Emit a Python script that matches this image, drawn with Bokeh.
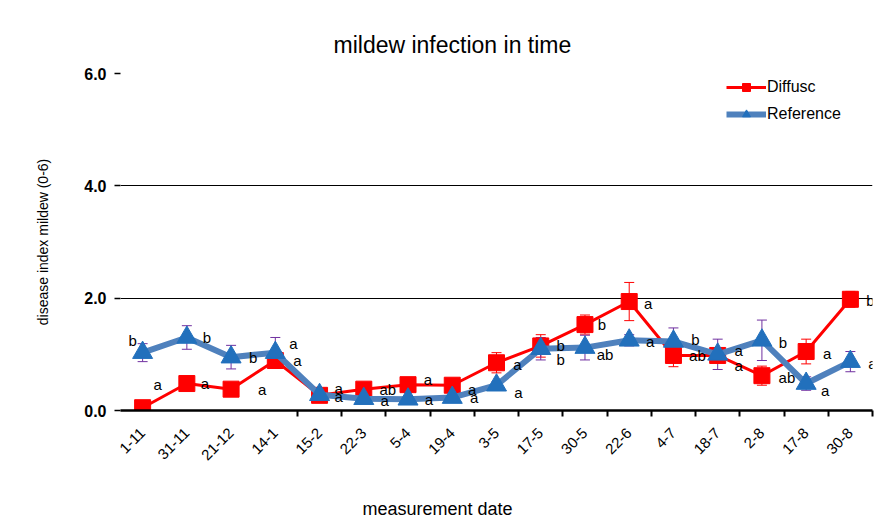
from math import pi
from bokeh.plotting import figure
from bokeh.models import (ColumnDataSource, FixedTicker, Whisker, TeeHead, Legend, LegendItem, Title)
from bokeh.core.properties import value
from bokeh.embed import file_html
from bokeh.resources import INLINE

dates = ["1-11", "31-11", "21-12", "14-1", "15-2", "22-3", "5-4", "19-4", "3-5",
         "17-5", "30-5", "22-6", "4-7", "18-7", "2-8", "17-8", "30-8"]
diffusc = [0.05, 0.48, 0.38, 0.89, 0.27, 0.38, 0.46, 0.45, 0.85,
           1.15, 1.53, 1.94, 0.98, 0.98, 0.62, 1.05, 1.98]
diffusc_err = [0.04, 0.05, 0.05, 0.08, 0.05, 0.05, 0.05, 0.05, 0.18,
               0.2, 0.17, 0.34, 0.2, 0.1, 0.17, 0.22, 0.14]
reference = [1.03, 1.3, 0.95, 1.03, 0.28, 0.21, 0.2, 0.23, 0.45,
             1.1, 1.12, 1.25, 1.23, 1.0, 1.25, 0.48, 0.87]
reference_err = [0.16, 0.21, 0.21, 0.27, 0.05, 0.05, 0.05, 0.05, 0.06,
                 0.2, 0.22, 0.1, 0.24, 0.27, 0.36, 0.12, 0.18]
diffusc_letters = ["a", "a", "a", "a", "a", "ab", "a", "a", "a",
                   "b", "b", "a", "ab", "a", "ab", "a", "b"]
reference_letters = ["b", "b", "b", "a", "a", "a", "a", "a", "a",
                     "b", "ab", "a", "b", "a", "b", "a", "a"]
yticks = [0, 2, 4, 6]

# label placement (pixel offsets from the point)
d_dx = [15, 18, 31, 22, 19, 24, 20, 20, 21, 20, 17, 19, 24, 21, 25, 21, 20]
d_dy = [-23, 0, 0, 0, -7, 0, -5, 4, 2, 0, 0, 2, 0, 10, 2, 2, 1]
r_dx = [-10, 20, 22, 18, 19, 21, 21, 22, 22, 20, 20, 21, 22, 21, 21, 19, 22]
r_dy = [-12, 0, 0, -9, 2, 2, 0, 0, 7, 11, 7, 1, -2, -4, 2, 7, 2]

FONT = "Liberation Sans"
x = list(range(len(dates)))

src_d = ColumnDataSource(dict(x=x, y=diffusc, lo=[v - e for v, e in zip(diffusc, diffusc_err)],
                              hi=[v + e for v, e in zip(diffusc, diffusc_err)],
                              t=diffusc_letters, dx=d_dx, dy=d_dy))
src_r = ColumnDataSource(dict(x=x, y=reference, lo=[v - e for v, e in zip(reference, reference_err)],
                              hi=[v + e for v, e in zip(reference, reference_err)],
                              t=reference_letters, dx=r_dx, dy=r_dy))

p = figure(width=876, height=527, output_backend="svg", toolbar_location=None,
           x_range=(-0.5, len(dates) - 0.5), y_range=(0, 6),
           frame_width=752, frame_height=337,
           min_border_left=120, min_border_right=4, min_border_top=73, min_border_bottom=117)
p.outline_line_color = None
p.background_fill_color = "white"

p.title.text = "mildew infection in time"
p.title.align = "left"
p.title.offset = 213
p.title.text_font = FONT
p.title.text_font_size = "23px"
p.title.text_font_style = "normal"
p.title.text_color = "black"
p.title.standoff = 32

# axes
xa = p.xaxis[0]
xa.ticker = FixedTicker(ticks=x, minor_ticks=[i + 0.5 for i in x[3:]])
xa.major_label_overrides = {i: d for i, d in enumerate(dates)}
xa.major_label_orientation = pi / 4
xa.major_tick_line_color = None
xa.minor_tick_line_color = "black"
xa.minor_tick_line_width = 2
xa.minor_tick_in = 0
xa.minor_tick_out = 6
xa.axis_line_color = "black"
xa.axis_line_width = 2.5
xa.major_label_text_font = FONT
xa.major_label_text_font_size = "15px"
xa.major_label_text_color = "black"
xa.major_label_standoff = 14
xa.axis_label = None

ya = p.yaxis[0]
ya.ticker = FixedTicker(ticks=yticks)
ya.major_label_overrides = {t: f"{t:.1f}" for t in yticks}
ya.axis_line_color = None
ya.major_tick_in = 0
ya.major_tick_out = 6
ya.major_tick_line_width = 1.5
ya.minor_tick_line_color = None
ya.major_label_text_font = FONT
ya.major_label_text_font_size = "16px"
ya.major_label_text_font_style = "bold"
ya.major_label_text_color = "black"
ya.major_label_standoff = 8
ya.axis_label = "disease index mildew (0-6)"
ya.axis_label_text_font = FONT
ya.axis_label_text_font_size = "14px"
ya.axis_label_text_font_style = "normal"
ya.axis_label_text_color = "black"
ya.axis_label_standoff = 30

p.xgrid.grid_line_color = None
p.ygrid.ticker = FixedTicker(ticks=yticks[1:])
p.ygrid.grid_line_color = "black"
p.ygrid.grid_line_width = 1.2

# x axis title (offset to the left, as in the original)
p.add_layout(Title(text="measurement date", align="left", offset=242,
                   text_font=FONT, text_font_size="18px", text_font_style="normal",
                   text_color="black", standoff=59), "below")

# error bars
p.add_layout(Whisker(source=src_d, base="x", upper="hi", lower="lo",
                     line_color="red", line_width=1,
                     upper_head=TeeHead(size=10, line_color="red", line_width=1),
                     lower_head=TeeHead(size=10, line_color="red", line_width=1)))
p.add_layout(Whisker(source=src_r, base="x", upper="hi", lower="lo",
                     line_color="#7030A0", line_width=1,
                     upper_head=TeeHead(size=10, line_color="#7030A0", line_width=1),
                     lower_head=TeeHead(size=10, line_color="#7030A0", line_width=1)))

# series
ld = p.line("x", "y", source=src_d, line_color="#FF0000", line_width=3)
md = p.scatter("x", "y", source=src_d, marker="square", size=16,
               fill_color="#FF0000", line_color="#FF0000")
lr = p.line("x", "y", source=src_r, line_color="#4F81BD", line_width=6)
mr = p.scatter("x", "y", source=src_r, marker="triangle", size=20,
               fill_color="#2270BC", line_color="#2270BC")

# letters
for src in (src_d, src_r):
    p.text("x", "y", text="t", source=src, x_offset="dx", y_offset="dy",
           text_font=value("Liberation Sans"), text_font_size="15px",
           text_color="black", text_align="center", text_baseline="middle")

legend = Legend(items=[LegendItem(label="Diffusc", renderers=[ld, md]),
                       LegendItem(label="Reference", renderers=[lr, mr])],
                location=(606, 286), padding=0, margin=0, spacing=7,
                glyph_width=40, glyph_height=20, label_height=20,
                label_standoff=1, border_line_color=None,
                background_fill_alpha=0, label_text_color="black",
                label_text_font=FONT, label_text_font_size="16px")
p.add_layout(legend)

open("out.html", "w").write(file_html(p, INLINE))
